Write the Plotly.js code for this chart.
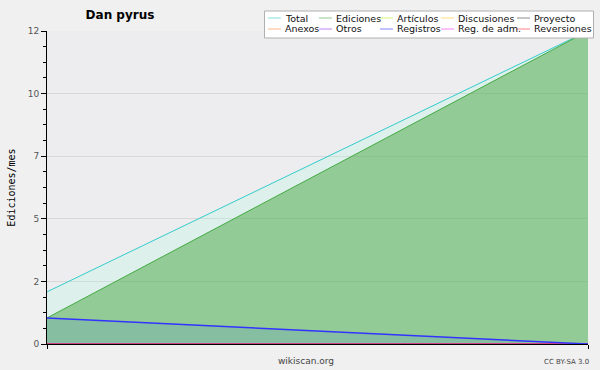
<!DOCTYPE html>
<html><head><meta charset="utf-8">
<script src="https://cdn.plot.ly/plotly-3.0.1.min.js"></script>
<style>html,body{margin:0;padding:0;background:#f0f0f0}#c{width:600px;height:370px;outline:1px solid #a8a8a8;outline-offset:-1px}</style>
</head><body><div id="c"></div><script>
// data
const months = [1, 2];
const seriesNames = ['Total','Ediciones','Artículos','Discusiones','Proyecto','Anexos','Otros','Registros','Reg. de adm.','Reversiones'];
const seriesColors = ['#33cccc','#44aa44','#bbee22','#ffcc22','#444444','#ff8833','#9933ee','#3333ff','#ee33ee','#ff3333'];
const total = [2, 12];
const ediciones = [1, 12];
const articulos = [0, 0];
const discusiones = [0, 0];
const proyecto = [0, 0];
const anexos = [0, 0];
const otros = [0, 0];
const registros = [1, 0];
const regAdm = [0, 0];
const reversiones = [0, 0];
const yTickVals = [0, 2.4, 4.8, 7.2, 9.6, 12];
const yTickText = ['0', '2', '5', '7', '10', '12'];

const seriesValues = [total, ediciones, articulos, discusiones, proyecto, anexos, otros, registros, regAdm, reversiones];
const fills = {0: 'rgba(160,255,220,0.2)', 1: 'rgba(72,166,65,0.5)', 7: 'rgba(40,100,240,0.12)'};
const drawOrder = [0, 1, 2, 3, 4, 5, 6, 8, 9, 7];
const traces = drawOrder.map(i => ({
  type: 'scatter', mode: 'lines', x: months, y: seriesValues[i], name: seriesNames[i],
  line: {color: seriesColors[i], width: i === 7 ? 1.5 : 1},
  fill: fills[i] ? 'tozeroy' : 'none', fillcolor: fills[i],
  showlegend: false, hoverinfo: 'skip'
}));

// plot area in pixels: left 47, right 588, top 31, bottom 344
const L = 47, R = 588, T = 31, B = 344;
const px = v => (v - L) / (R - L);
const py = v => (B - v) / (B - T);

// hand-built legend (5 columns x 2 rows)
const colX = [268, 319, 380, 441, 517];
const rowY = [18, 29];
const shapes = [{type: 'rect', xref: 'paper', yref: 'paper', x0: px(264.5), x1: px(593.5), y0: py(38), y1: py(11),
  fillcolor: '#ffffff', line: {color: '#b0b0b0', width: 1}, layer: 'above'}];
const annotations = [];
seriesNames.forEach((n, i) => {
  const c = i % 5, r = Math.floor(i / 5);
  shapes.push({type: 'line', xref: 'paper', yref: 'paper', x0: px(colX[c]), x1: px(colX[c] + 13),
    y0: py(rowY[r]), y1: py(rowY[r]), line: {color: seriesColors[i], width: 1}, layer: 'above', opacity: 0.6});
  annotations.push({xref: 'paper', yref: 'paper', x: px(colX[c] + 15), y: py(rowY[r]), xanchor: 'left', yanchor: 'middle',
    text: n, showarrow: false, font: {family: 'DejaVu Sans', size: 9.5, color: '#111'}});
});
annotations.push({xref: 'paper', yref: 'paper', x: px(306), y: py(361), xanchor: 'center', yanchor: 'middle',
  text: 'wikiscan.org', showarrow: false, font: {family: 'DejaVu Sans', size: 9, color: '#444'}});
annotations.push({xref: 'paper', yref: 'paper', x: px(591), y: py(362), xanchor: 'right', yanchor: 'middle',
  text: 'CC BY-SA 3.0', showarrow: false, font: {family: 'DejaVu Sans', size: 7, color: '#444'}});

const layout = {
  width: 600, height: 370,
  margin: {l: L, r: 600 - R, t: T, b: 370 - B, pad: 0},
  paper_bgcolor: '#f0f0f0', plot_bgcolor: '#ededef',
  showlegend: false,
  title: {text: '<b>Dan pyrus</b>', font: {family: 'DejaVu Sans', size: 12, color: '#000'},
    xref: 'container', yref: 'container', x: 0.2, xanchor: 'center', y: 1 - 15 / 370, yanchor: 'middle'},
  xaxis: {range: [1, 2], showgrid: false, zeroline: false, showline: true, linecolor: '#000', linewidth: 1,
    tickmode: 'array', tickvals: months, ticks: 'outside', ticklen: 4, tickcolor: '#000', showticklabels: false, fixedrange: true},
  yaxis: {range: [0, 12], tickmode: 'array', tickvals: yTickVals, ticktext: yTickText,
    ticks: 'outside', ticklen: 5, tickcolor: '#000', showline: true, linecolor: '#000', linewidth: 1,
    showgrid: true, gridcolor: '#d8d8d8', gridwidth: 1, zeroline: false,
    tickfont: {family: 'DejaVu Sans', size: 9, color: '#555'},
    minor: {tick0: 0, dtick: 0.6, ticks: 'outside', ticklen: 3, tickcolor: '#000', showgrid: false},
    title: {text: 'Ediciones/mes', font: {family: 'DejaVu Sans Mono', size: 10, color: '#000'}, standoff: 10},
    automargin: false, fixedrange: true},
  shapes: shapes, annotations: annotations
};
Plotly.newPlot('c', traces, layout, {displayModeBar: false, staticPlot: true});
</script></body></html>
